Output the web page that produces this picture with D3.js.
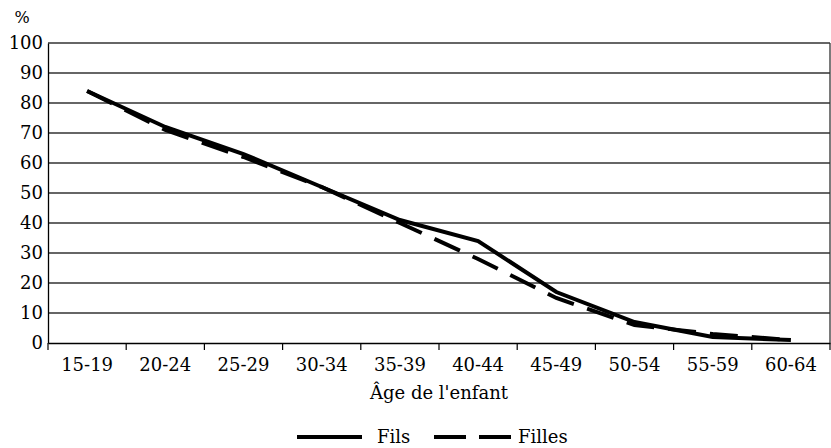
<!DOCTYPE html>
<html>
<head>
<meta charset="utf-8">
<script src="https://cdn.jsdelivr.net/npm/d3@7"></script>
<style>
  body { margin: 0; background: #fff; }
  text { font-family: "DejaVu Serif", serif; fill: #000; }
</style>
</head>
<body>
<div id="chart"></div>
<script>
var categories = ["15-19", "20-24", "25-29", "30-34", "35-39", "40-44", "45-49", "50-54", "55-59", "60-64"];
var fils = [84, 72, 63, 52, 41, 34, 17, 7, 2, 1];
var filles = [84, 71, 62, 52, 40, 28, 15, 6, 3, 1];
var yTicks = [0, 10, 20, 30, 40, 50, 60, 70, 80, 90, 100];

var svgWidth = 831;
var svgHeight = 448;
var margin = { top: 43, right: 1, bottom: 105, left: 48 };
var width = svgWidth - margin.left - margin.right;
var height = svgHeight - margin.top - margin.bottom;

var svg = d3.select("#chart")
  .append("svg")
  .attr("width", svgWidth)
  .attr("height", svgHeight);

var chartGroup = svg.append("g")
  .attr("transform", `translate(${margin.left}, ${margin.top})`);

var xScale = d3.scaleBand()
  .domain(categories)
  .range([0, width]);

var yScale = d3.scaleLinear()
  .domain([0, 100])
  .range([height, 0]);

// gridlines
chartGroup.selectAll(".grid")
  .data(yTicks.slice(1))
  .enter()
  .append("line")
  .attr("x1", 0)
  .attr("x2", width)
  .attr("y1", d => yScale(d))
  .attr("y2", d => yScale(d))
  .attr("stroke", "#333")
  .attr("stroke-width", 1.3);

// right border
chartGroup.append("line")
  .attr("x1", width).attr("x2", width)
  .attr("y1", 0).attr("y2", height)
  .attr("stroke", "#333")
  .attr("stroke-width", 1.3);

// y axis
var leftAxis = d3.axisLeft(yScale).tickValues(yTicks).tickSize(0).tickPadding(5);
var yAxis = chartGroup.append("g").call(leftAxis);
yAxis.select(".domain").attr("stroke", "#000").attr("stroke-width", 1.3);
yAxis.selectAll("text").style("font-size", "18px").attr("fill", "#000");

// x axis
var bottomAxis = d3.axisBottom(xScale).tickSize(0).tickPadding(15);
var xAxis = chartGroup.append("g")
  .attr("transform", `translate(0, ${height})`)
  .call(bottomAxis);
xAxis.select(".domain").attr("stroke", "#000").attr("stroke-width", 1.5);
xAxis.selectAll("text").style("font-size", "18px").attr("fill", "#000");

// tick marks at band boundaries
var bounds = categories.map(c => xScale(c)).concat([width]);
xAxis.selectAll(".bound")
  .data(bounds)
  .enter()
  .append("line")
  .attr("x1", d => d).attr("x2", d => d)
  .attr("y1", 0).attr("y2", 7)
  .attr("stroke", "#000")
  .attr("stroke-width", 1.2);

var line = d3.line()
  .x((d, i) => xScale(categories[i]) + xScale.bandwidth() / 2)
  .y(d => yScale(d));

chartGroup.append("path")
  .datum(fils)
  .attr("d", line)
  .attr("fill", "none")
  .attr("stroke", "#000")
  .attr("stroke-width", 4);

chartGroup.append("path")
  .datum(filles)
  .attr("d", line)
  .attr("fill", "none")
  .attr("stroke", "#000")
  .attr("stroke-width", 4)
  .attr("stroke-dasharray", "28,14");

// labels
svg.append("text")
  .attr("x", 22)
  .attr("y", 23)
  .attr("text-anchor", "middle")
  .style("font-size", "16px")
  .text("%");

svg.append("text")
  .attr("x", margin.left + width / 2)
  .attr("y", 399)
  .attr("text-anchor", "middle")
  .style("font-size", "18px")
  .text("Âge de l'enfant");

// legend
var legend = svg.append("g");
legend.append("line")
  .attr("x1", 297).attr("x2", 362)
  .attr("y1", 437).attr("y2", 437)
  .attr("stroke", "#000").attr("stroke-width", 4);
legend.append("text")
  .attr("x", 377).attr("y", 443)
  .style("font-size", "18px")
  .text("Fils");
legend.append("line")
  .attr("x1", 434).attr("x2", 511)
  .attr("y1", 437).attr("y2", 437)
  .attr("stroke", "#000").attr("stroke-width", 4)
  .attr("stroke-dasharray", "32,13");
legend.append("text")
  .attr("x", 518).attr("y", 443)
  .style("font-size", "18px")
  .text("Filles");
</script>
</body>
</html>
